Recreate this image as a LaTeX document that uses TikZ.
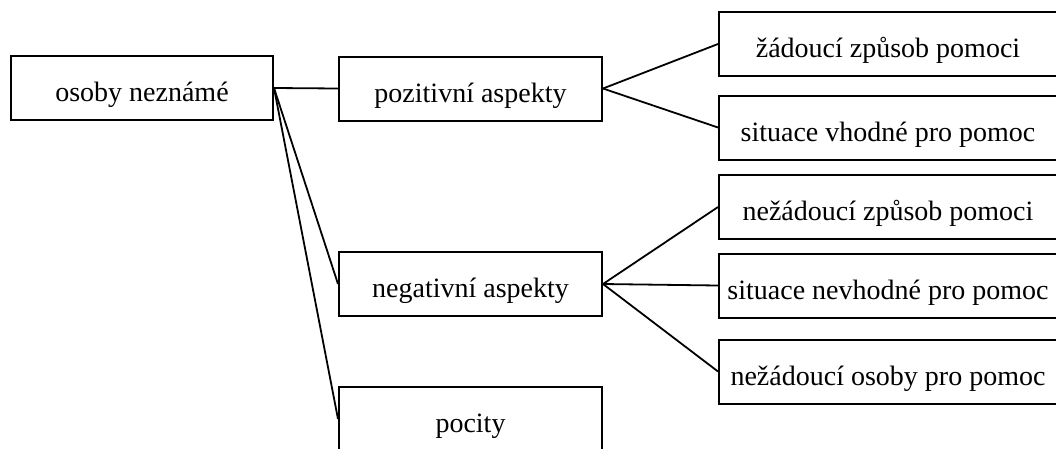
\documentclass[tikz,border=0pt]{standalone}
\usepackage{fontspec}
\setmainfont{Liberation Serif}
\begin{document}
\begin{tikzpicture}[x=1pt,y=-1pt,
  box/.style={draw=black,line width=2pt,inner sep=0,minimum height=64pt,text height=27pt,text depth=0pt,font=\fontsize{28}{32}\selectfont},
  leftbox/.style={box,minimum width=262pt},
  midbox/.style={box,minimum width=263pt},
  rightbox/.style={box,minimum width=338pt},
  link/.style={line width=1.8pt}]
  \useasboundingbox (0,0) rectangle (1056,448);
  \node [leftbox] (osoby) at (142,88) {osoby neznámé};
  \node [midbox] (pozitivni) at (470.5,88.5) {pozitivní aspekty};
  \node [midbox] (negativni) at (470.5,284) {negativní aspekty};
  \node [midbox] (pocity) at (470.5,419) {pocity};
  \node [rightbox] (zadouci) at (888,44) {žádoucí způsob pomoci};
  \node [rightbox] (vhodne) at (888,127.5) {situace vhodné pro pomoc};
  \node [rightbox] (nezadouci) at (888,207) {nežádoucí způsob pomoci};
  \node [rightbox] (nevhodne) at (888,285.5) {situace nevhodné pro pomoc};
  \node [rightbox] (nezosoby) at (888,371.5) {nežádoucí osoby pro pomoc};
  \foreach \j in {pozitivni,negativni,pocity}{
    \draw[link] (osoby.east) -- (\j.west);
  }
  \foreach \j in {zadouci,vhodne}{
    \draw[link] (pozitivni.east) -- (\j.west);
  }
  \foreach \j in {nezadouci,nevhodne,nezosoby}{
    \draw[link] (negativni.east) -- (\j.west);
  }
\end{tikzpicture}
\end{document}
